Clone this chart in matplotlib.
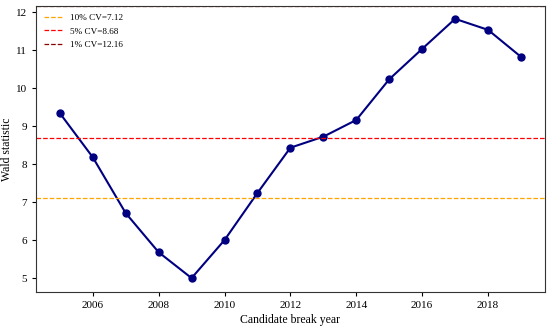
import matplotlib
matplotlib.use("Agg")
import matplotlib.pyplot as plt

years = [2005, 2006, 2007, 2008, 2009, 2010, 2011, 2012, 2013, 2014, 2015, 2016, 2017, 2018, 2019]
wald = [9.34, 8.18, 6.71, 5.68, 5.00, 6.00, 7.24, 8.43, 8.72, 9.16, 10.23, 11.03, 11.82, 11.53, 10.82]
cv_labels = ["10% CV=7.12", "5% CV=8.68", "1% CV=12.16"]
cv_values = [7.12, 8.68, 12.16]
cv_colors = ["orange", "red", "darkred"]
xticks = [2006, 2008, 2010, 2012, 2014, 2016, 2018]

plt.rcParams['font.family'] = ['Liberation Serif', 'DejaVu Serif']

fig, ax = plt.subplots(figsize=(5.5, 3.29), dpi=100)
ax.plot(years, wald, color='navy', marker='o', markersize=5, linewidth=1.5)
for lab, v, c in zip(cv_labels, cv_values, cv_colors):
    ax.axhline(v, color=c, linestyle='--', linewidth=0.9, label=lab)
ax.set_xticks(xticks)
ax.set_ylim(4.63, 12.16)
ax.set_xlim(2004.27, 2019.73)
ax.set_xlabel("Candidate break year", fontsize=8.5, labelpad=3)
ax.set_ylabel("Wald statistic", fontsize=8.5)
ax.yaxis.set_label_coords(-0.044, 0.5)
ax.tick_params(labelsize=8, length=3, pad=3.5)
for s in ax.spines.values():
    s.set_color('#333333')
ax.legend(loc='upper left', frameon=False, fontsize=6.6, handlelength=2.0,
          handletextpad=0.85, labelspacing=0.55, borderaxespad=0.45)
fig.subplots_adjust(left=0.065, right=0.991, top=0.982, bottom=0.112)
fig.savefig("out.png", dpi=100)
